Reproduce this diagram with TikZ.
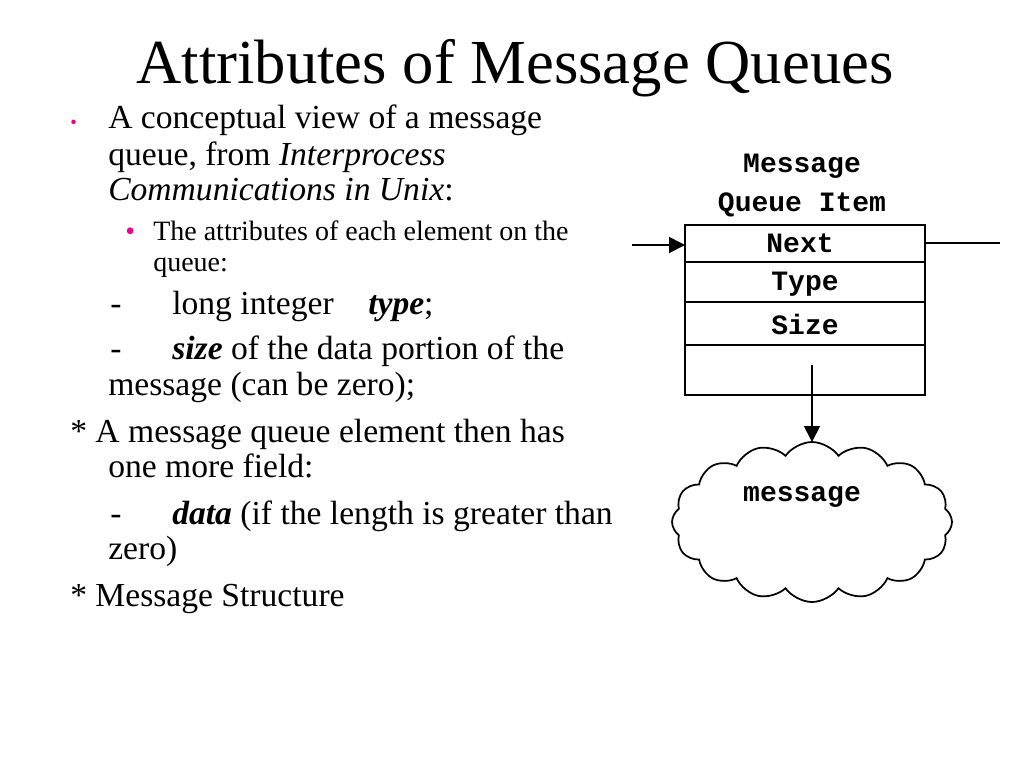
\documentclass[tikz,border=0pt]{standalone}
\usepackage{fontspec}
\setmainfont{Liberation Serif}
\newfontfamily\dfont{Liberation Mono}
\usetikzlibrary{shapes.symbols,arrows.meta}
\begin{document}
\begin{tikzpicture}[x=0.75pt,y=-0.75pt,
  tl/.style={anchor=base west,inner sep=0pt,font=\fontsize{25.2}{28}\selectfont},
  sl/.style={anchor=base west,inner sep=0pt,font=\fontsize{21}{24}\selectfont},
  dl/.style={font=\dfont\bfseries\fontsize{21}{24}\selectfont,inner sep=0pt},
  ln/.style={line width=1.3pt},
  arr/.style={ln,-{Triangle[length=12pt,width=12pt]}}]
\useasboundingbox (0,0) rectangle (1024,768);
\node (title) at (515,68) {\fontsize{47}{54}\selectfont Attributes of Message Queues};
\node[tl,text=magenta] (b1) at (70,128) {\fontsize{14}{16}\selectfont •};
\node[tl] (l1) at (108,128) {A conceptual view of a message};
\node[tl] (l2) at (108,165) {queue, from \textit{Interprocess}};
\node[tl] (l3) at (108,200) {\textit{Communications in Unix}:};
\node[sl,text=magenta] (b2) at (125,240) {•};
\node[sl] (s1) at (153,240) {The attributes of each element on the};
\node[sl] (s2) at (153,271) {queue:};
\node[tl] (d1) at (110,314) {-};
\node[tl] (d1b) at (172,314) {long integer};
\node[tl] (d1c) at (368,314) {\textbf{\textit{type}};};
\node[tl] (d2) at (110,359) {-};
\node[tl] (d2b) at (172,359) {\textbf{\textit{size}} of the data portion of the};
\node[tl] (d2c) at (108,395) {message (can be zero);};
\node[tl] (a1) at (70,442) {* A message queue element then has};
\node[tl] (a2) at (108,477) {one more field:};
\node[tl] (d3) at (110,524) {-};
\node[tl] (d3b) at (172,524) {\textbf{\textit{data}} (if the length is greater than};
\node[tl] (d3c) at (108,559) {zero)};
\node[tl] (a3) at (70,606) {* Message Structure};
% diagram
\node[dl] (h1) at (802,166) {Message};
\node[dl] (h2) at (802,205) {Queue Item};
\draw[ln] (685,225) rectangle (925,395);
\draw[ln] (685,262) -- (925,262);
\draw[ln] (685,302) -- (925,302);
\draw[ln] (685,345) -- (925,345);
\node[dl] (next) at (800,243) {Next};
\node[dl] (type) at (805,284) {Type};
\node[dl] (size) at (805,324) {Size};
\coordinate (inL) at (632,245);
\coordinate (boxL) at (685,245);
\coordinate (inR) at (1000,243);
\coordinate (boxR) at (925,243);
\draw[arr] (inL) -- (boxL);
\draw[ln] (inR) -- (boxR);
\node[cloud,draw,ln,cloud puffs=16,cloud puff arc=110,aspect=1.8,minimum width=280pt*0.75,minimum height=160pt*0.75,dl] (msg) at (812,522) {};
\node[dl] (msgt) at (802,497) {message};
\coordinate (dtop) at (812,365);
\draw[arr] (dtop) -- (812,442);
\end{tikzpicture}
\end{document}
